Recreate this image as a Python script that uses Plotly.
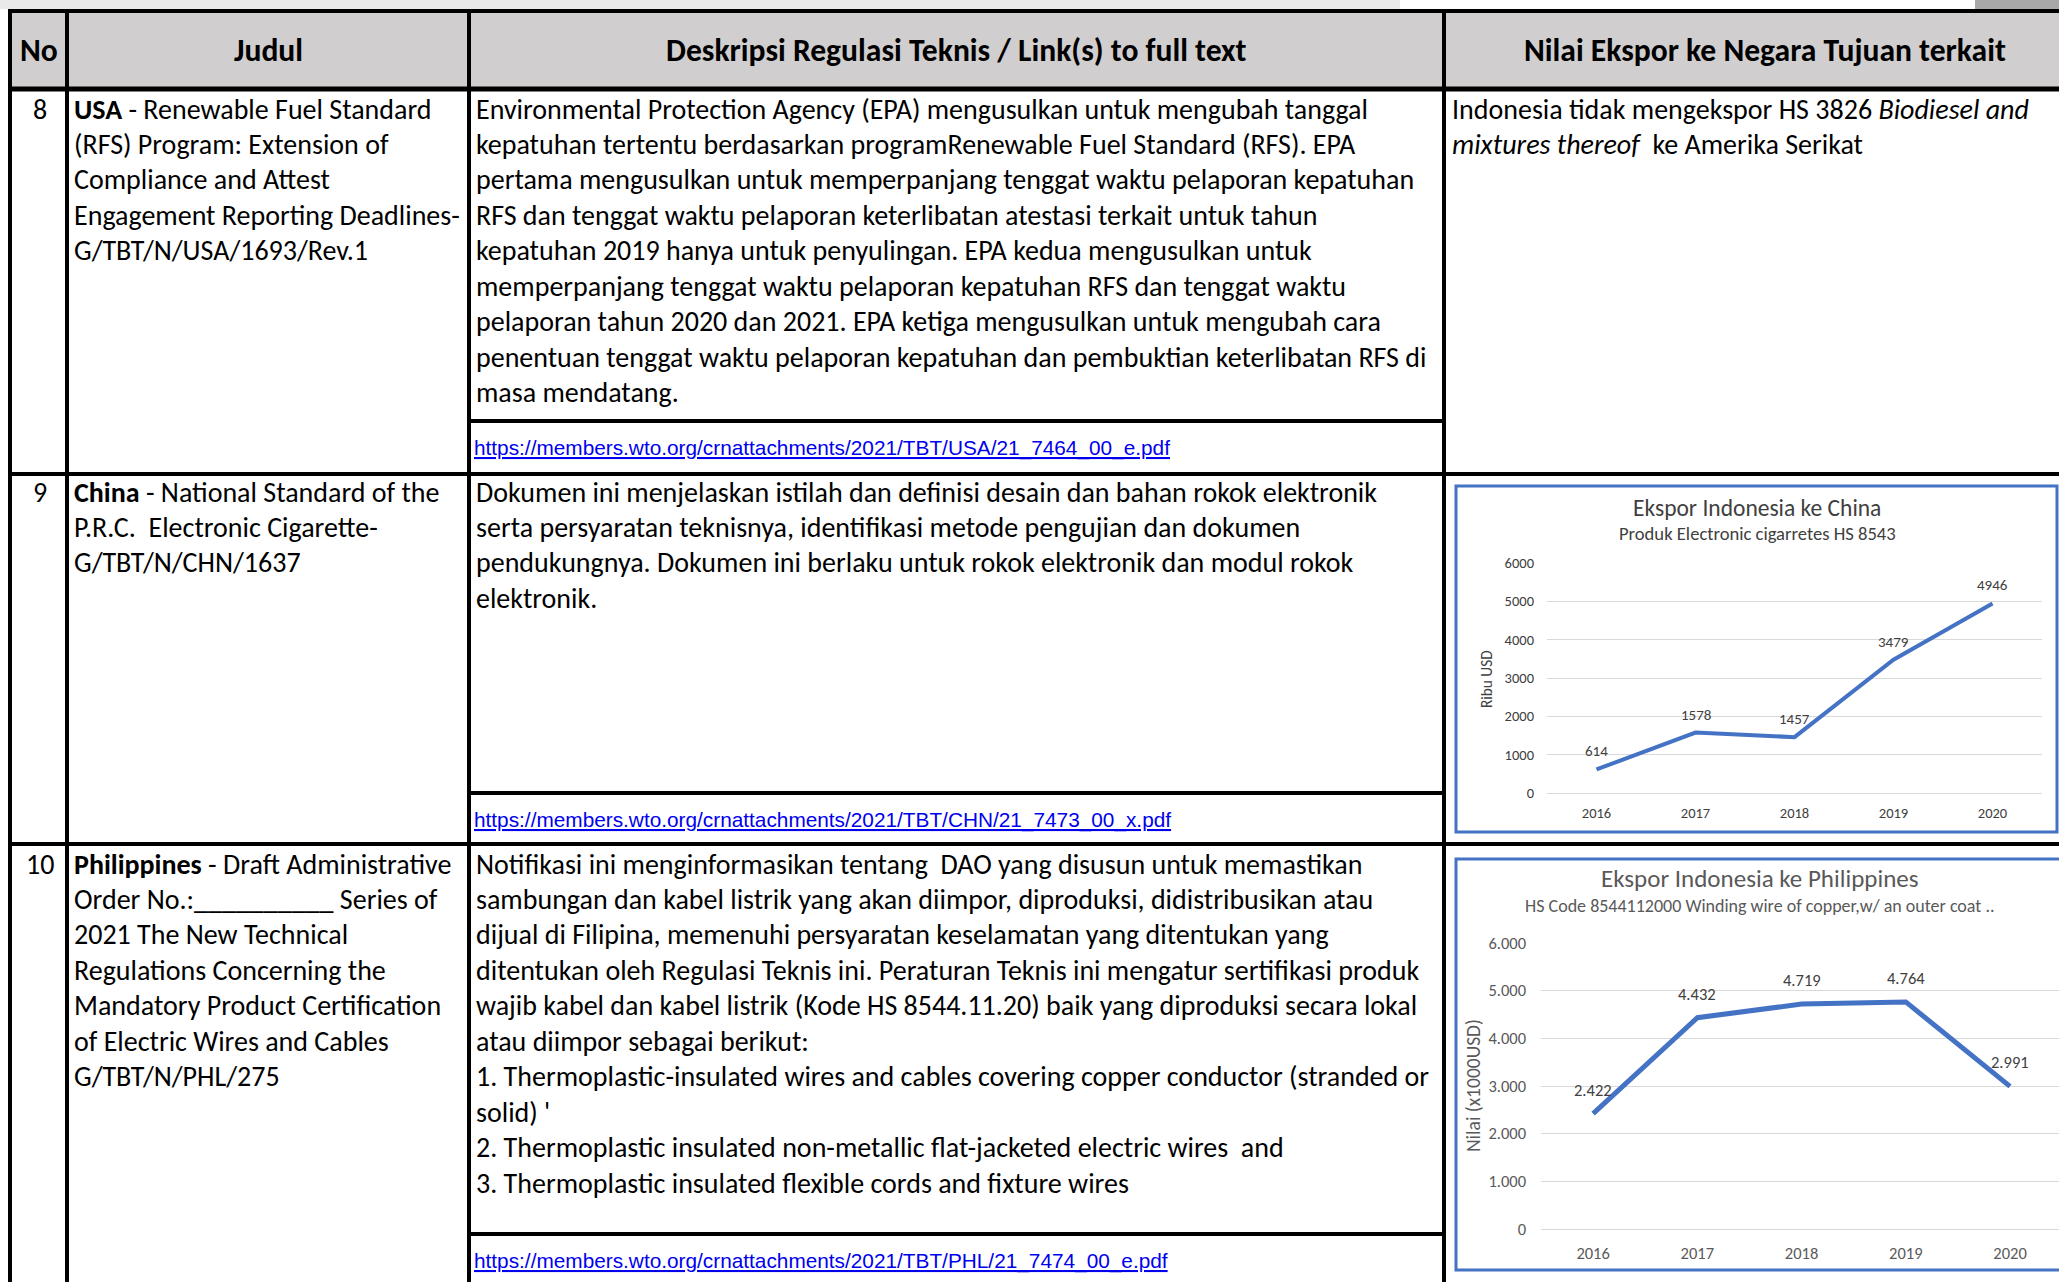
import plotly.graph_objects as go

W, H = 2059, 1282

# ---------------- data ----------------
years = ["2016", "2017", "2018", "2019", "2020"]
china_export = [614, 1578, 1457, 3479, 4946]
philippines_export = [2422, 4432, 4719, 4764, 2991]
y_ticks = [0, 1000, 2000, 3000, 4000, 5000, 6000]

header_labels = ["No", "Judul", "Deskripsi Regulasi Teknis / Link(s) to full text",
                 "Nilai Ekspor ke Negara Tujuan terkait"]
row_numbers = ["8", "9", "10"]
judul_lines = [
    ["<b>USA</b> - Renewable Fuel Standard", "(RFS) Program: Extension of", "Compliance and Attest",
     "Engagement Reporting Deadlines-", "G/TBT/N/USA/1693/Rev.1"],
    ["<b>China</b> - National Standard of the", "P.R.C.  Electronic Cigarette-", "G/TBT/N/CHN/1637"],
    ["<b>Philippines</b> - Draft Administrative", "Order No.:__________ Series of", "2021 The New Technical",
     "Regulations Concerning the", "Mandatory Product Certification", "of Electric Wires and Cables",
     "G/TBT/N/PHL/275"],
]
deskripsi_lines = [
    ["Environmental Protection Agency (EPA) mengusulkan untuk mengubah tanggal",
     "kepatuhan tertentu berdasarkan programRenewable Fuel Standard (RFS). EPA",
     "pertama mengusulkan untuk memperpanjang tenggat waktu pelaporan kepatuhan",
     "RFS dan tenggat waktu pelaporan keterlibatan atestasi terkait untuk tahun",
     "kepatuhan 2019 hanya untuk penyulingan. EPA kedua mengusulkan untuk",
     "memperpanjang tenggat waktu pelaporan kepatuhan RFS dan tenggat waktu",
     "pelaporan tahun 2020 dan 2021. EPA ketiga mengusulkan untuk mengubah cara",
     "penentuan tenggat waktu pelaporan kepatuhan dan pembuktian keterlibatan RFS di",
     "masa mendatang."],
    ["Dokumen ini menjelaskan istilah dan definisi desain dan bahan rokok elektronik",
     "serta persyaratan teknisnya, identifikasi metode pengujian dan dokumen",
     "pendukungnya. Dokumen ini berlaku untuk rokok elektronik dan modul rokok",
     "elektronik."],
    ["Notifikasi ini menginformasikan tentang  DAO yang disusun untuk memastikan",
     "sambungan dan kabel listrik yang akan diimpor, diproduksi, didistribusikan atau",
     "dijual di Filipina, memenuhi persyaratan keselamatan yang ditentukan yang",
     "ditentukan oleh Regulasi Teknis ini. Peraturan Teknis ini mengatur sertifikasi produk",
     "wajib kabel dan kabel listrik (Kode HS 8544.11.20) baik yang diproduksi secara lokal",
     "atau diimpor sebagai berikut:",
     "1. Thermoplastic-insulated wires and cables covering copper conductor (stranded or",
     "solid) '",
     "2. Thermoplastic insulated non-metallic flat-jacketed electric wires  and",
     "3. Thermoplastic insulated flexible cords and fixture wires"],
]
link_texts = [
    "https://members.wto.org/crnattachments/2021/TBT/USA/21_7464_00_e.pdf",
    "https://members.wto.org/crnattachments/2021/TBT/CHN/21_7473_00_x.pdf",
    "https://members.wto.org/crnattachments/2021/TBT/PHL/21_7474_00_e.pdf",
]
nilai_row8 = ["Indonesia tidak mengekspor HS 3826 <i>Biodiesel and</i>",
              "<i>mixtures thereof</i>  ke Amerika Serikat"]
chart_titles = ["Ekspor Indonesia ke China", "Ekspor Indonesia ke Philippines"]
chart_subtitles = ["Produk Electronic cigarretes HS 8543",
                   "HS Code 8544112000 Winding wire of copper,w/ an outer coat .."]
y_titles = ["Ribu USD", "Nilai (x1000USD)"]

# ---------------- layout helpers ----------------
FONT = "Carlito, Lato, sans-serif"
LINKFONT = "Liberation Sans, Arial, sans-serif"
BLUE = "#4472C4"
GREY = "#595959"
DARK = "#404040"
BODY = 28


def px(x):
    return x / W


def py(y):
    return 1 - y / H


shapes = []
annotations = []


def hline(y, x0, x1, w=4, color="black"):
    shapes.append(dict(type="line", xref="paper", yref="paper", x0=px(x0), x1=px(x1),
                       y0=py(y), y1=py(y), line=dict(color=color, width=w), layer="above"))


def vline(x, y0, y1, w=4, color="black"):
    shapes.append(dict(type="line", xref="paper", yref="paper", x0=px(x), x1=px(x),
                       y0=py(y0), y1=py(y1), line=dict(color=color, width=w), layer="above"))


def text(x, y, s, size=BODY, anchor="left", color="black", family=FONT, angle=0):
    annotations.append(dict(xref="paper", yref="paper", x=px(x), y=py(y), text=s, showarrow=False,
                            xanchor=anchor, yanchor="middle", textangle=angle,
                            font=dict(family=family, size=size, color=color)))


# faint scan artifact at top
shapes.append(dict(type="rect", xref="paper", yref="paper", x0=0, x1=px(1400), y0=py(9), y1=1,
                   fillcolor="#e9e9e9", line=dict(width=0), layer="below"))
shapes.append(dict(type="rect", xref="paper", yref="paper", x0=px(1975), x1=1, y0=py(9), y1=1,
                   fillcolor="#a8a8a8", line=dict(width=0), layer="below"))

# table geometry
X_L, X_NO, X_JU, X_DE, X_R = 10, 67, 469, 1444, 2085
Y_T, Y_HEAD = 11, 89
row_bottoms = [474, 844, 1300]
link_seps = [421, 793, 1234]
row_first = [109, 492, 864]
LH = 35.45

shapes.append(dict(type="rect", xref="paper", yref="paper", x0=px(X_L), x1=px(X_R), y0=py(Y_HEAD), y1=py(Y_T),
                   fillcolor="#d0cece", line=dict(width=0), layer="below"))
hline(Y_T, X_L - 2, X_R, w=4)
hline(Y_HEAD, X_L - 2, X_R, w=5)
for yb in row_bottoms[:2]:
    hline(yb, X_L - 2, X_R, w=4)
for ys in link_seps:
    hline(ys, X_JU, X_DE, w=4)
for xv in [X_L, X_NO, X_JU, X_DE]:
    vline(xv, Y_T - 2, 1300, w=4)

# header
head_centers = [(X_L + X_NO) / 2, (X_NO + X_JU) / 2, (X_JU + X_DE) / 2, (X_DE + X_R) / 2]
for cx, lab in zip(head_centers, header_labels):
    text(cx, 50, "<b>" + lab + "</b>", size=31.6, anchor="center")

# rows
for r in range(3):
    y0 = row_first[r]
    text(40, y0, row_numbers[r], anchor="center")
    for i, s in enumerate(judul_lines[r]):
        text(72, y0 + i * LH, s)
    for i, s in enumerate(deskripsi_lines[r]):
        text(474, y0 + i * LH, s)
    text(472, link_seps[r] + 27, "<u>" + link_texts[r] + "</u>", size=20.8, color="#0000ee", family=LINKFONT)
for i, s in enumerate(nilai_row8):
    text(1450, row_first[0] + i * LH, s)

# chart boxes
shapes.append(dict(type="rect", xref="paper", yref="paper", x0=px(1456), x1=px(2057), y0=py(832), y1=py(486),
                   line=dict(color=BLUE, width=3), fillcolor="rgba(0,0,0,0)"))
shapes.append(dict(type="rect", xref="paper", yref="paper", x0=px(1456), x1=px(2075), y0=py(1270), y1=py(859),
                   line=dict(color=BLUE, width=3), fillcolor="rgba(0,0,0,0)"))

# chart titles
text(1757, 508, chart_titles[0], size=23.5, anchor="center", color=DARK)
text(1757, 533, chart_subtitles[0], size=18.6, anchor="center", color=DARK)
text(1486, 679, y_titles[0], size=15.3, anchor="center", color=DARK, angle=-90)
text(1760, 878, chart_titles[1], size=25, anchor="center", color=GREY)
text(1760, 906, chart_subtitles[1], size=18, anchor="center", color=GREY)
text(1473, 1086, y_titles[1], size=19.5, anchor="center", color=GREY, angle=-90)

fig = go.Figure()
fig.add_trace(go.Scatter(x=years, y=china_export, mode="lines", line=dict(color=BLUE, width=4),
                         xaxis="x", yaxis="y", hoverinfo="skip", showlegend=False))
fig.add_trace(go.Scatter(x=years, y=philippines_export, mode="lines", line=dict(color=BLUE, width=5),
                         xaxis="x2", yaxis="y2", hoverinfo="skip", showlegend=False))

# data labels (category axes take the serial index of each category)
for i, v in enumerate(china_export):
    annotations.append(dict(xref="x", yref="y", x=i, y=v, text=str(v), showarrow=False, yshift=18,
                            font=dict(family=FONT, size=15, color=DARK)))
for i, v in enumerate(philippines_export):
    annotations.append(dict(xref="x2", yref="y2", x=i, y=v, text=f"{v:,}".replace(",", "."),
                            showarrow=False, yshift=24, font=dict(family=FONT, size=16.5, color=DARK)))

tick_font1 = dict(family=FONT, size=14.5, color=DARK)
tick_font2 = dict(family=FONT, size=16.5, color=GREY)
common_x = dict(type="category", showgrid=False, showline=False, zeroline=False, ticks="", automargin=False)
common_y = dict(range=[0, 6000], tickvals=y_ticks, showgrid=True, gridcolor="#d9d9d9", gridwidth=1,
                zeroline=True, zerolinecolor="#d9d9d9", zerolinewidth=1, showline=False, ticks="",
                automargin=False)

fig.update_layout(
    template="none",
    width=W, height=H, margin=dict(l=0, r=0, t=0, b=0, pad=0, autoexpand=False),
    paper_bgcolor="white", plot_bgcolor="rgba(0,0,0,0)",
    separators=",.",
    shapes=shapes, annotations=annotations, showlegend=False,
    xaxis=dict(domain=[px(1547), px(2042)], anchor="y", range=[-0.5, 4.5], tickfont=tick_font1,
               ticklabelstandoff=9, **common_x),
    yaxis=dict(domain=[py(793), py(563)], anchor="x", tickformat="d", tickfont=tick_font1,
               ticklabelstandoff=12, **common_y),
    xaxis2=dict(domain=[px(1541), 1.0], anchor="y2", range=[-0.5, 4.47], tickfont=tick_font2,
                ticklabelstandoff=12, **common_x),
    yaxis2=dict(domain=[py(1229), py(943)], anchor="x2", tickformat=",d", tickfont=tick_font2,
                ticklabelstandoff=14, **common_y),
)

fig.write_html("out.html", config={"displayModeBar": False},
               post_script="document.documentElement.style.margin='0px';document.body.style.margin='0px';"
                           "document.body.style.overflow='hidden';")
